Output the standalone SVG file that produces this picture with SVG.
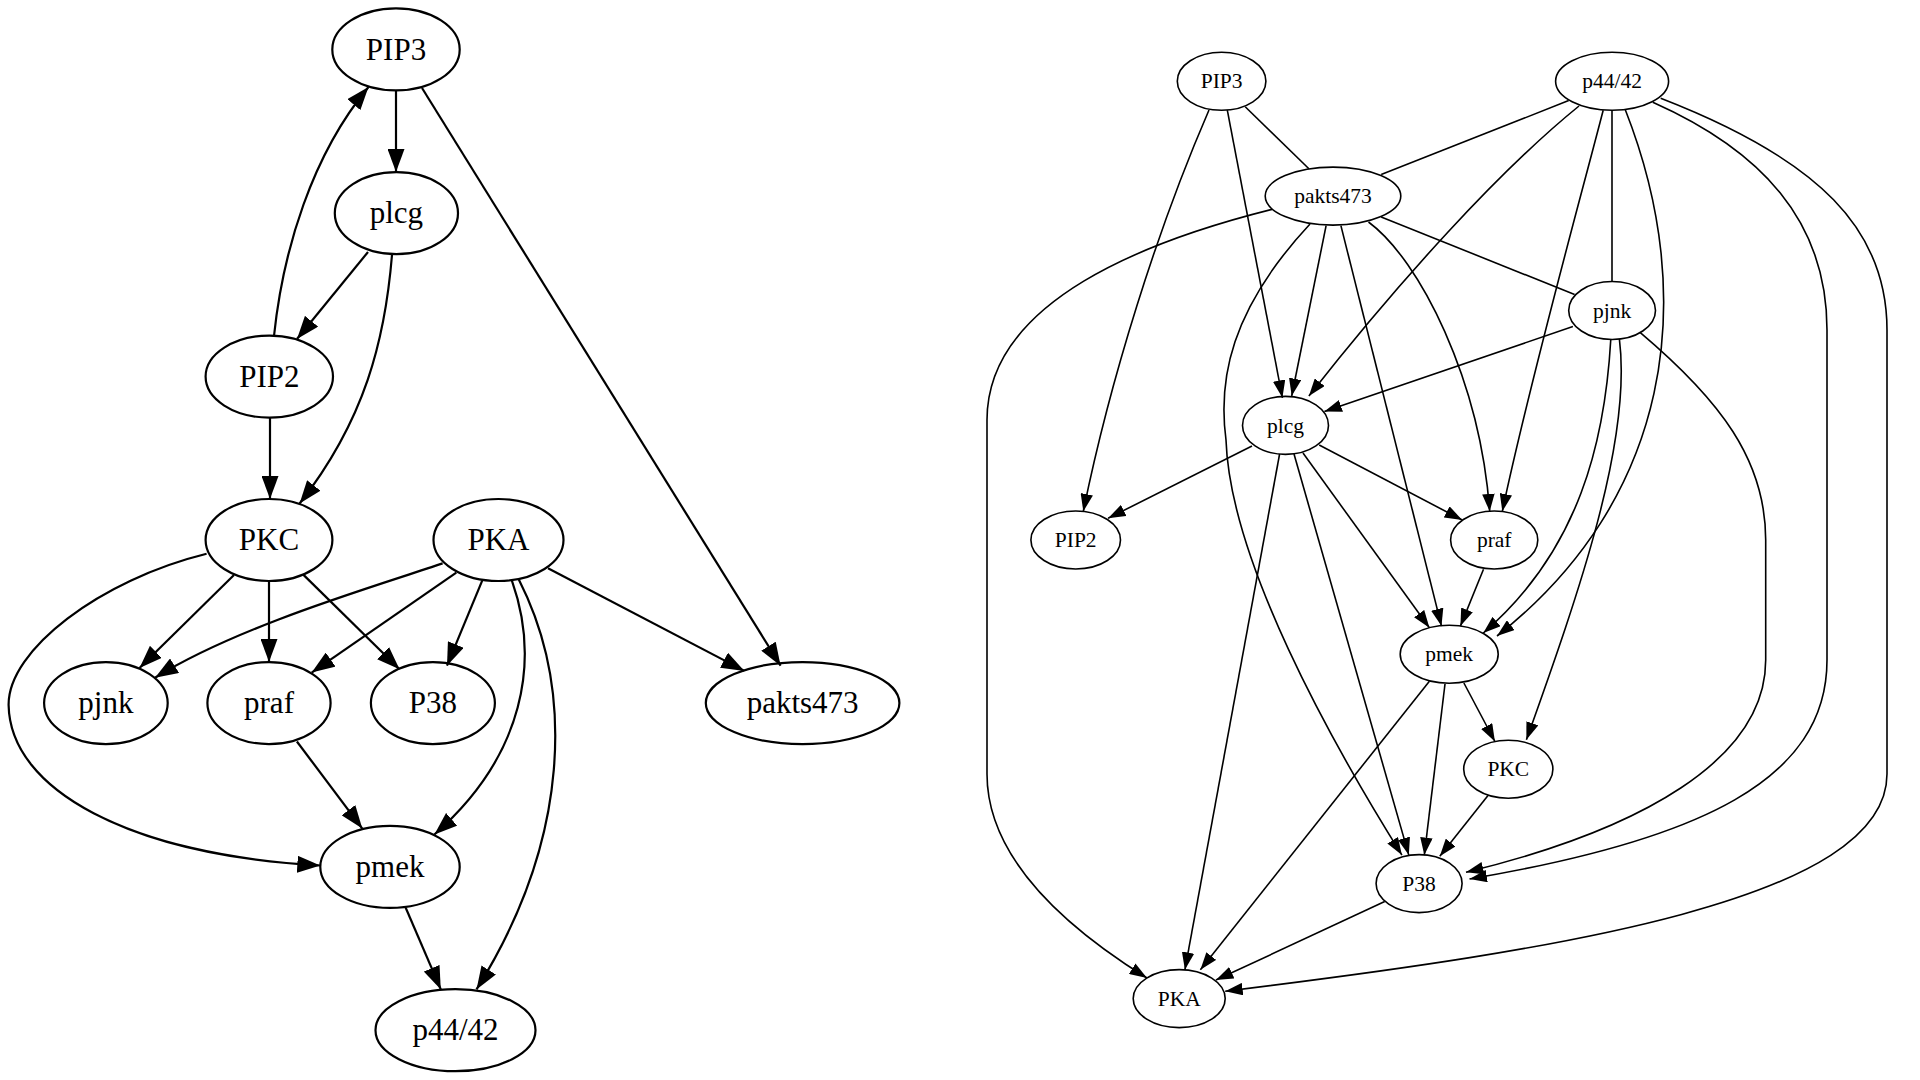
<svg xmlns="http://www.w3.org/2000/svg" width="1920" height="1080" viewBox="0 0 1920 1080">
<defs>
<style>
.nL ellipse{fill:none;stroke:#000;stroke-width:2.2}
.nR ellipse{fill:none;stroke:#000;stroke-width:1.6}
text{font-family:"Liberation Serif","Times New Roman",serif;text-anchor:middle;fill:#000}
.nL text{font-size:31px}
.nR text{font-size:21.5px}
.eL path{fill:none;stroke:#000;stroke-width:2.2}
.eR path{fill:none;stroke:#000;stroke-width:1.6}
.eL path.a{marker-end:url(#arL)}
.eR path.a{marker-end:url(#arR)}
</style>
<marker id="arL" markerUnits="userSpaceOnUse" viewBox="0 0 23 17" refX="23" refY="8.5" markerWidth="23" markerHeight="17" orient="auto">
<path d="M0,0 L23,8.5 L0,17 z" fill="#000"/>
</marker>
<marker id="arR" markerUnits="userSpaceOnUse" viewBox="0 0 17.5 12.5" refX="17.5" refY="6.25" markerWidth="17.5" markerHeight="12.5" orient="auto">
<path d="M0,0 L17.5,6.25 L0,12.5 z" fill="#000"/>
</marker>
</defs>
<rect width="1920" height="1080" fill="#fff"/>

<g id="left-edges" class="eL">
<path class="a" d="M396,90 L396,172"/>
<path class="a" d="M274,336 C283,250 312,155 368.5,87"/>
<path class="a" d="M368,252 L297,339"/>
<path class="a" d="M392,255 C385,340 365,420 299.6,503.5"/>
<path class="a" d="M270,417 L270,499"/>
<path class="a" d="M422,88 L780.6,665.7"/>
<path class="a" d="M234,575 L139.5,668"/>
<path class="a" d="M269,581 L269,662"/>
<path class="a" d="M303,574.4 L399.5,669.2"/>
<path class="a" d="M206.6,553.8 C100,580 8,650 8.6,705 C10,790 130,855 320.3,865.5"/>
<path class="a" d="M442.6,563.4 C380,585 240,625 155,677.8"/>
<path class="a" d="M456.3,572.7 L311.7,672.6"/>
<path class="a" d="M482.2,580.6 L447,665.7"/>
<path class="a" d="M511.9,580.6 C540,660 525,755 434.4,834.5"/>
<path class="a" d="M518.8,579.6 C575,690 570,840 476.5,989.4"/>
<path class="a" d="M548,568.2 L744.4,670.9"/>
<path class="a" d="M296.9,741.5 L362.3,828.6"/>
<path class="a" d="M405.7,907.8 L440.8,989.4"/>
</g>

<g id="L-PIP3" class="nL"><ellipse cx="396" cy="49.4" rx="63.7" ry="41"/><text x="396" y="59.6">PIP3</text></g>
<g id="L-plcg" class="nL"><ellipse cx="396.4" cy="213.2" rx="61.6" ry="41"/><text x="396.4" y="223.4">plcg</text></g>
<g id="L-PIP2" class="nL"><ellipse cx="269.3" cy="376.6" rx="63.7" ry="41"/><text x="269.3" y="386.8">PIP2</text></g>
<g id="L-PKC" class="nL"><ellipse cx="269" cy="540" rx="63.4" ry="41"/><text x="269" y="550.2">PKC</text></g>
<g id="L-PKA" class="nL"><ellipse cx="498.5" cy="540" rx="65" ry="41"/><text x="498.5" y="550.2">PKA</text></g>
<g id="L-pjnk" class="nL"><ellipse cx="105.9" cy="703.1" rx="61.8" ry="41"/><text x="105.9" y="713.3">pjnk</text></g>
<g id="L-praf" class="nL"><ellipse cx="269" cy="703.1" rx="61.6" ry="41"/><text x="269" y="713.3">praf</text></g>
<g id="L-P38" class="nL"><ellipse cx="432.9" cy="703.1" rx="62" ry="41"/><text x="432.9" y="713.3">P38</text></g>
<g id="L-pakts473" class="nL"><ellipse cx="802.6" cy="703.1" rx="96.8" ry="41"/><text x="802.6" y="713.3">pakts473</text></g>
<g id="L-pmek" class="nL"><ellipse cx="390" cy="866.9" rx="69.7" ry="41"/><text x="390" y="877.1">pmek</text></g>
<g id="L-p4442" class="nL"><ellipse cx="455.5" cy="1030.2" rx="80" ry="41"/><text x="455.5" y="1040.4">p44/42</text></g>

<g id="right-edges" class="eR">
<path class="a" d="M1209,110 C1157,230 1110,380 1083.3,511.4"/>
<path class="a" d="M1227.3,110.2 L1282.4,397.8"/>
<path d="M1245.2,106.8 L1308.9,168.8"/>
<path d="M1568.7,100.6 L1381.2,174.6"/>
<path class="a" d="M1579,106 C1500,170 1400,280 1308.9,396"/>
<path class="a" d="M1603.2,110.2 C1580,200 1530,380 1502.3,511.4"/>
<path d="M1612,110 L1612,282"/>
<path class="a" d="M1625.2,109.5 C1700,300 1670,500 1497,636"/>
<path class="a" d="M1652.8,102.3 C1760,150 1827,220 1827,330 L1827,660 C1827,780 1700,840 1469.5,879"/>
<path class="a" d="M1660.7,98.2 C1820,160 1887,230 1887,330 L1887,774 C1887,900 1560,950 1225.2,991.2"/>
<path class="a" d="M1272,209.4 C1150,240 987,300 987,420 L987,774 C987,860 1070,930 1147,978"/>
<path class="a" d="M1326.1,225.6 L1291.7,396"/>
<path class="a" d="M1310,224 C1230,310 1218,380 1226,440 C1230,560 1330,740 1401.9,855.1"/>
<path class="a" d="M1340.9,225.6 L1441.5,626.1"/>
<path class="a" d="M1368.5,222 C1420,260 1480,380 1489.7,511.4"/>
<path d="M1381.2,217 L1574.6,294.5"/>
<path class="a" d="M1572.9,326.5 L1324.4,411.6"/>
<path class="a" d="M1610.8,339.2 C1605,440 1580,550 1483.3,633"/>
<path class="a" d="M1619.4,339.2 C1632,440 1580,590 1526.4,739.8"/>
<path class="a" d="M1640,332.4 C1720,400 1765.7,460 1765.7,540 L1765.7,660 C1765.7,760 1640,830 1466,872.3"/>
<path class="a" d="M1252,446 L1108.1,518.3"/>
<path class="a" d="M1319.2,445 L1462.2,520"/>
<path class="a" d="M1279.6,454 L1184.9,969.8"/>
<path class="a" d="M1294,454 L1408.8,855.1"/>
<path class="a" d="M1303,453 L1429.4,627.8"/>
<path class="a" d="M1483.5,569.3 L1460.4,626.1"/>
<path class="a" d="M1429.4,681.2 L1200.4,969.8"/>
<path class="a" d="M1445,684 L1424.3,855.1"/>
<path class="a" d="M1463.9,683 L1494.9,741.5"/>
<path class="a" d="M1488,795.5 L1439.8,856.2"/>
<path class="a" d="M1384.7,901.6 L1215.9,980.1"/>
</g>

<g id="R-PIP3" class="nR"><ellipse cx="1221.6" cy="81.3" rx="44.3" ry="29"/><text x="1221.6" y="88.4">PIP3</text></g>
<g id="R-p4442" class="nR"><ellipse cx="1612.1" cy="81.3" rx="56.5" ry="29"/><text x="1612.1" y="88.4">p44/42</text></g>
<g id="R-pakts473" class="nR"><ellipse cx="1333" cy="196.1" rx="67.8" ry="29"/><text x="1333" y="203.2">pakts473</text></g>
<g id="R-pjnk" class="nR"><ellipse cx="1612.1" cy="310.5" rx="43.4" ry="29"/><text x="1612.1" y="317.6">pjnk</text></g>
<g id="R-plcg" class="nR"><ellipse cx="1285.5" cy="425.4" rx="43" ry="29"/><text x="1285.5" y="432.5">plcg</text></g>
<g id="R-PIP2" class="nR"><ellipse cx="1075.7" cy="540" rx="44.8" ry="29"/><text x="1075.7" y="547.1">PIP2</text></g>
<g id="R-praf" class="nR"><ellipse cx="1494.2" cy="540" rx="43.6" ry="29"/><text x="1494.2" y="547.1">praf</text></g>
<g id="R-pmek" class="nR"><ellipse cx="1449.2" cy="654.2" rx="49" ry="29"/><text x="1449.2" y="661.3">pmek</text></g>
<g id="R-PKC" class="nR"><ellipse cx="1508.3" cy="769.2" rx="44.6" ry="29"/><text x="1508.3" y="776.3">PKC</text></g>
<g id="R-P38" class="nR"><ellipse cx="1419.1" cy="883.6" rx="43" ry="29"/><text x="1419.1" y="890.7">P38</text></g>
<g id="R-PKA" class="nR"><ellipse cx="1179.2" cy="998.6" rx="46" ry="29"/><text x="1179.2" y="1005.7">PKA</text></g>
</svg>
